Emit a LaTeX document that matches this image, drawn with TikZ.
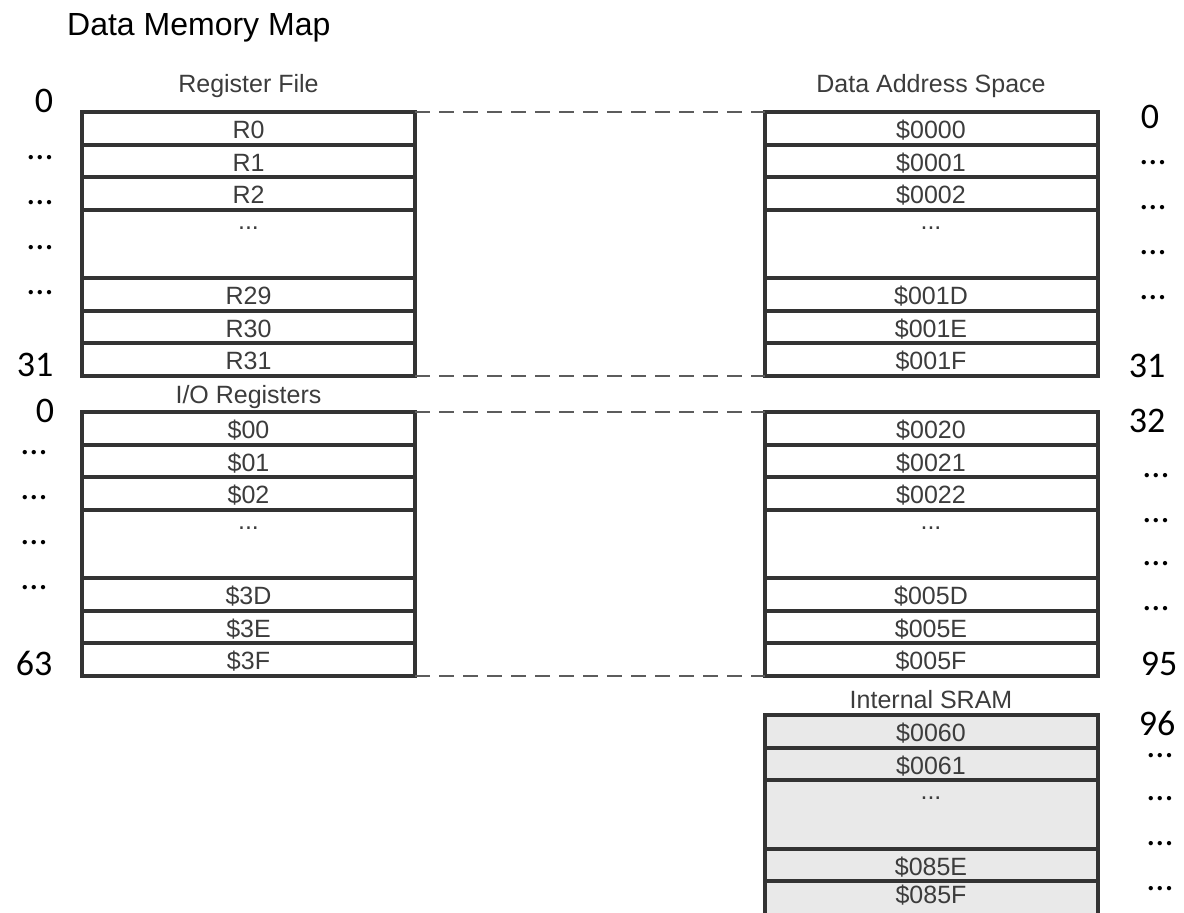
\documentclass[tikz,border=0pt]{standalone}
\usepackage{fontspec}
\setmainfont{Liberation Sans}
\newfontfamily\numfont{Carlito}
\usetikzlibrary{positioning}
\definecolor{LineaGris}{HTML}{333333}
\definecolor{TextoGris}{HTML}{3C3C3C}
\definecolor{FondoSRAM}{HTML}{E9E9E9}
\tikzstyle{Celda}=[rectangle, draw=LineaGris, line width=4pt, outer sep=0pt, inner ysep=0pt, minimum width=333pt, minimum height=32.5pt, text height=21pt, text depth=0pt, text=TextoGris, font=\fontsize{25}{25}\selectfont]
\tikzstyle{Hueco}=[Celda, minimum height=68.5pt, text height=0pt, text depth=29pt]
\tikzstyle{Sram}=[fill=FondoSRAM]
\tikzstyle{Titulo}=[anchor=base, inner sep=0pt, text=TextoGris, font=\fontsize{25}{25}\selectfont]
\tikzstyle{Indice}=[anchor=base, inner sep=0pt, font=\numfont\fontsize{36}{36}\selectfont]
\tikzstyle{Discontinua}=[draw=LineaGris!80, line width=2pt, dash pattern=on 15pt off 9pt]

\begin{document}
\begin{tikzpicture}[x=1pt, y=-1pt]
			\useasboundingbox (0,0) rectangle (1184,913);

			%Titulo
			\node[anchor=base west, inner sep=0pt, font=\fontsize{32}{32}\selectfont] (title) at (67,35) {Data Memory Map};

			%Register File
			\node[Titulo]		(rf_t)		at (248.5,92)					{Register File};
			\node[Celda]		(rf0)		at (248.5,128.25)				{R0};
			\node[Celda]		(rf1)		[below=0pt of rf0]			{R1};
			\node[Celda]		(rf2)		[below=0pt of rf1]			{R2};
			\node[Hueco]		(rf3)		[below=0pt of rf2]			{...};
			\node[Celda]		(rf4)		[below=0pt of rf3]			{R29};
			\node[Celda]		(rf5)		[below=0pt of rf4]			{R30};
			\node[Celda]		(rf6)		[below=0pt of rf5]			{R31};

			%I/O Registers
			\node[Titulo]		(io_t)		at (248.5,403)				{I/O Registers};
			\node[Celda]		(io0)		at (248.5,428.25)				{\$00};
			\node[Celda]		(io1)		[below=0pt of io0]			{\$01};
			\node[Celda]		(io2)		[below=0pt of io1]			{\$02};
			\node[Hueco]		(io3)		[below=0pt of io2]			{...};
			\node[Celda]		(io4)		[below=0pt of io3]			{\$3D};
			\node[Celda]		(io5)		[below=0pt of io4]			{\$3E};
			\node[Celda]		(io6)		[below=0pt of io5]			{\$3F};

			%Data Address Space
			\node[Titulo]		(da_t)		at (931,92)					{Data Address Space};
			\node[Celda]		(da0)		at (931,128.25)				{\$0000};
			\node[Celda]		(da1)		[below=0pt of da0]			{\$0001};
			\node[Celda]		(da2)		[below=0pt of da1]			{\$0002};
			\node[Hueco]		(da3)		[below=0pt of da2]			{...};
			\node[Celda]		(da4)		[below=0pt of da3]			{\$001D};
			\node[Celda]		(da5)		[below=0pt of da4]			{\$001E};
			\node[Celda]		(da6)		[below=0pt of da5]			{\$001F};

			\node[Celda]		(db0)		at (931,428.25)				{\$0020};
			\node[Celda]		(db1)		[below=0pt of db0]			{\$0021};
			\node[Celda]		(db2)		[below=0pt of db1]			{\$0022};
			\node[Hueco]		(db3)		[below=0pt of db2]			{...};
			\node[Celda]		(db4)		[below=0pt of db3]			{\$005D};
			\node[Celda]		(db5)		[below=0pt of db4]			{\$005E};
			\node[Celda]		(db6)		[below=0pt of db5]			{\$005F};

			%Internal SRAM
			\node[Titulo]		(sr_t)		at (931,708)					{Internal SRAM};
			\node[Celda,Sram]	(sr0)		at (931,731.25)				{\$0060};
			\node[Celda,Sram]	(sr1)		[below=0pt of sr0]			{\$0061};
			\node[Hueco,Sram]	(sr2)		[below=0pt of sr1]			{...};
			\node[Celda,Sram]	(sr3)		[below=0pt of sr2]			{\$085E};
			\node[Celda,Sram, minimum height=37pt, text height=7pt]	(sr4)	[below=0pt of sr3]	{\$085F};

			%Lineas
			\draw[Discontinua] (rf0.north east) -- (da0.north west);
			\draw[Discontinua] (rf6.south east) -- (da6.south west);
			\draw[Discontinua] (io0.north east) -- (db0.north west);
			\draw[Discontinua] (io6.south east) -- (db6.south west);

			%Indices izquierda
			\node[Indice]	(l0)	at (44,112)	{0};
			\node[Indice]	(l1)	at (40,159)	{...};
			\node[Indice]	(l2)	at (40,204)	{...};
			\node[Indice]	(l3)	at (40,249)	{...};
			\node[Indice]	(l4)	at (40,294)	{...};
			\node[Indice]	(l5)	at (35,376)	{31};
			\node[Indice]	(l6)	at (45,422)	{0};
			\node[Indice]	(l7)	at (34,454)	{...};
			\node[Indice]	(l8)	at (34,499)	{...};
			\node[Indice]	(l9)	at (34,544)	{...};
			\node[Indice]	(l10)	at (34,589)	{...};
			\node[Indice]	(l11)	at (34,675)	{63};

			%Indices derecha
			\node[Indice]	(r0)	at (1150,128)	{0};
			\node[Indice]	(r1)	at (1153,164)	{...};
			\node[Indice]	(r2)	at (1153,209)	{...};
			\node[Indice]	(r3)	at (1153,254)	{...};
			\node[Indice]	(r4)	at (1153,299)	{...};
			\node[Indice]	(r5)	at (1147,377)	{31};
			\node[Indice]	(r6)	at (1147,432)	{32};
			\node[Indice]	(r7)	at (1156,477)	{...};
			\node[Indice]	(r8)	at (1156,522)	{...};
			\node[Indice]	(r9)	at (1156,565)	{...};
			\node[Indice]	(r10)	at (1156,610)	{...};
			\node[Indice]	(r11)	at (1159,675)	{95};
			\node[Indice]	(r12)	at (1157,735)	{96};
			\node[Indice]	(r13)	at (1160,757)	{...};
			\node[Indice]	(r14)	at (1160,800)	{...};
			\node[Indice]	(r15)	at (1160,845)	{...};
			\node[Indice]	(r16)	at (1160,890)	{...};

		\end{tikzpicture}
\end{document}
